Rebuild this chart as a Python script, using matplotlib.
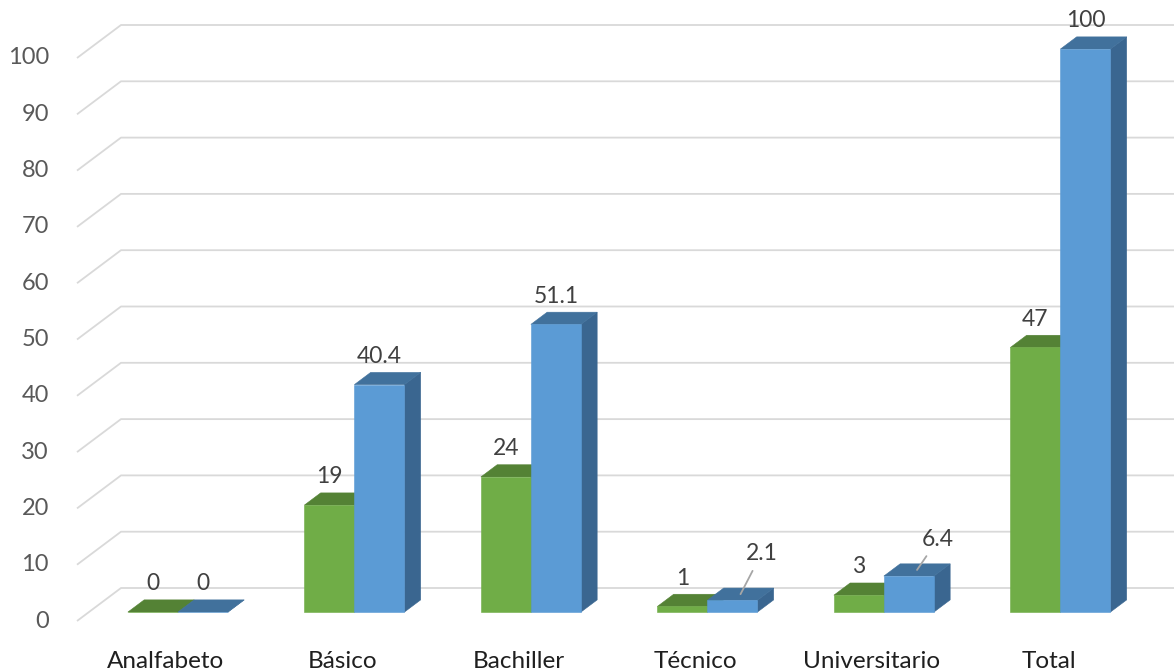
import matplotlib
matplotlib.use("Agg")
import matplotlib.pyplot as plt
from matplotlib.patches import Polygon

# ---- data ----
categories = ["Analfabeto", "Básico", "Bachiller", "Técnico", "Universitario", "Total"]
series_a = [0, 19, 24, 1, 3, 47]          # green
series_b = [0, 40.4, 51.1, 2.1, 6.4, 100]  # blue
yticks = [0, 10, 20, 30, 40, 50, 60, 70, 80, 90, 100]

# ---- style / geometry (pixel-based perspective) ----
W, H = 1174, 671
DPI = 100
PX_PER_CAT = 176.5
PX_PER_VAL = 5.63
X0_PX = 166      # front-plane centre of first category
Y0_PX = 621      # front-plane value 0 (from top)
DEPTH_DX = 44 / PX_PER_CAT
DEPTH_DY = 33 / PX_PER_VAL
D1, D2 = 0.27, 0.64
BAR_W = 50 / PX_PER_CAT

GREEN_F, GREEN_T, GREEN_S = "#70AD47", "#548235", "#4E7A31"
BLUE_F, BLUE_T, BLUE_S = "#5B9BD5", "#41719C", "#3A6690"
GRID = "#D9D9D9"

plt.rcParams['font.family'] = ['Lato', 'DejaVu Sans']

fig = plt.figure(figsize=(W / DPI, H / DPI), dpi=DPI)
ax = fig.add_axes([0, 0, 1, 1])
ax.set_xlim(-X0_PX / PX_PER_CAT, (W - X0_PX) / PX_PER_CAT)
ax.set_ylim(-(H - Y0_PX) / PX_PER_VAL, Y0_PX / PX_PER_VAL)
ax.axis("off")


def P(x, v, d):
    return (x + d * DEPTH_DX, v + d * DEPTH_DY)


# gridlines: front diagonal + back wall
x_left = (77 - X0_PX) / PX_PER_CAT
x_right = ax.get_xlim()[1] + 1
for t in yticks:
    a = P(x_left, t, 0)
    b = P(x_left, t, 1)
    c = (x_right, b[1])
    ax.plot([a[0], b[0], c[0]], [a[1], b[1], c[1]], color=GRID, lw=1.3,
            solid_capstyle="butt", zorder=1)
    ax.text((49 - X0_PX) / PX_PER_CAT, t, str(t), ha="right", va="center",
            fontsize=17, color="#595959")


def bar3d(x0, x1, v, cf, ct, cs, z):
    front = [P(x0, 0, D1), P(x1, 0, D1), P(x1, v, D1), P(x0, v, D1)]
    top = [P(x0, v, D1), P(x1, v, D1), P(x1, v, D2), P(x0, v, D2)]
    side = [P(x1, 0, D1), P(x1, v, D1), P(x1, v, D2), P(x1, 0, D2)]
    for pts, c in ((side, cs), (top, ct), (front, cf)):
        ax.add_patch(Polygon(pts, closed=True, facecolor=c, edgecolor=c,
                             lw=0.4, zorder=z))


label_off_pt = 16 * 72 / DPI
for i, (a, b) in enumerate(zip(series_a, series_b)):
    bar3d(i - BAR_W, i, a, GREEN_F, GREEN_T, GREEN_S, 3)
    bar3d(i, i + BAR_W, b, BLUE_F, BLUE_T, BLUE_S, 4)
    ax.text(i, -7.2, categories[i], ha="center",
            va="center", fontsize=17.5, color="#1F1F1F")

    for xc, v in ((i - BAR_W / 2, a), (i + BAR_W / 2, b)):
        lab = f"{v:g}"
        bx, by = P(xc, v, D2)
        fx, _ = P(xc, v, D1)
        small_leader = (v == series_b[i]) and (series_b[i] - series_a[i]) > 0 and 0 < v < 10
        if small_leader:
            tx, ty = P(xc, v, (D1 + D2) / 2)
            ax.annotate(lab, xy=(tx, ty), xytext=(15, 29 if v < 3 else 22),
                        textcoords="offset points", ha="center", va="center",
                        fontsize=16.5, color="#404040", zorder=6,
                        arrowprops=dict(arrowstyle="-", color="#A6A6A6",
                                        lw=1.3, shrinkA=3, shrinkB=0))
        else:
            ax.annotate(lab, xy=(fx, by), xytext=(0, label_off_pt),
                        textcoords="offset points", ha="center", va="center",
                        fontsize=16.5, color="#404040", zorder=6)

fig.savefig("out.png", dpi=DPI)
